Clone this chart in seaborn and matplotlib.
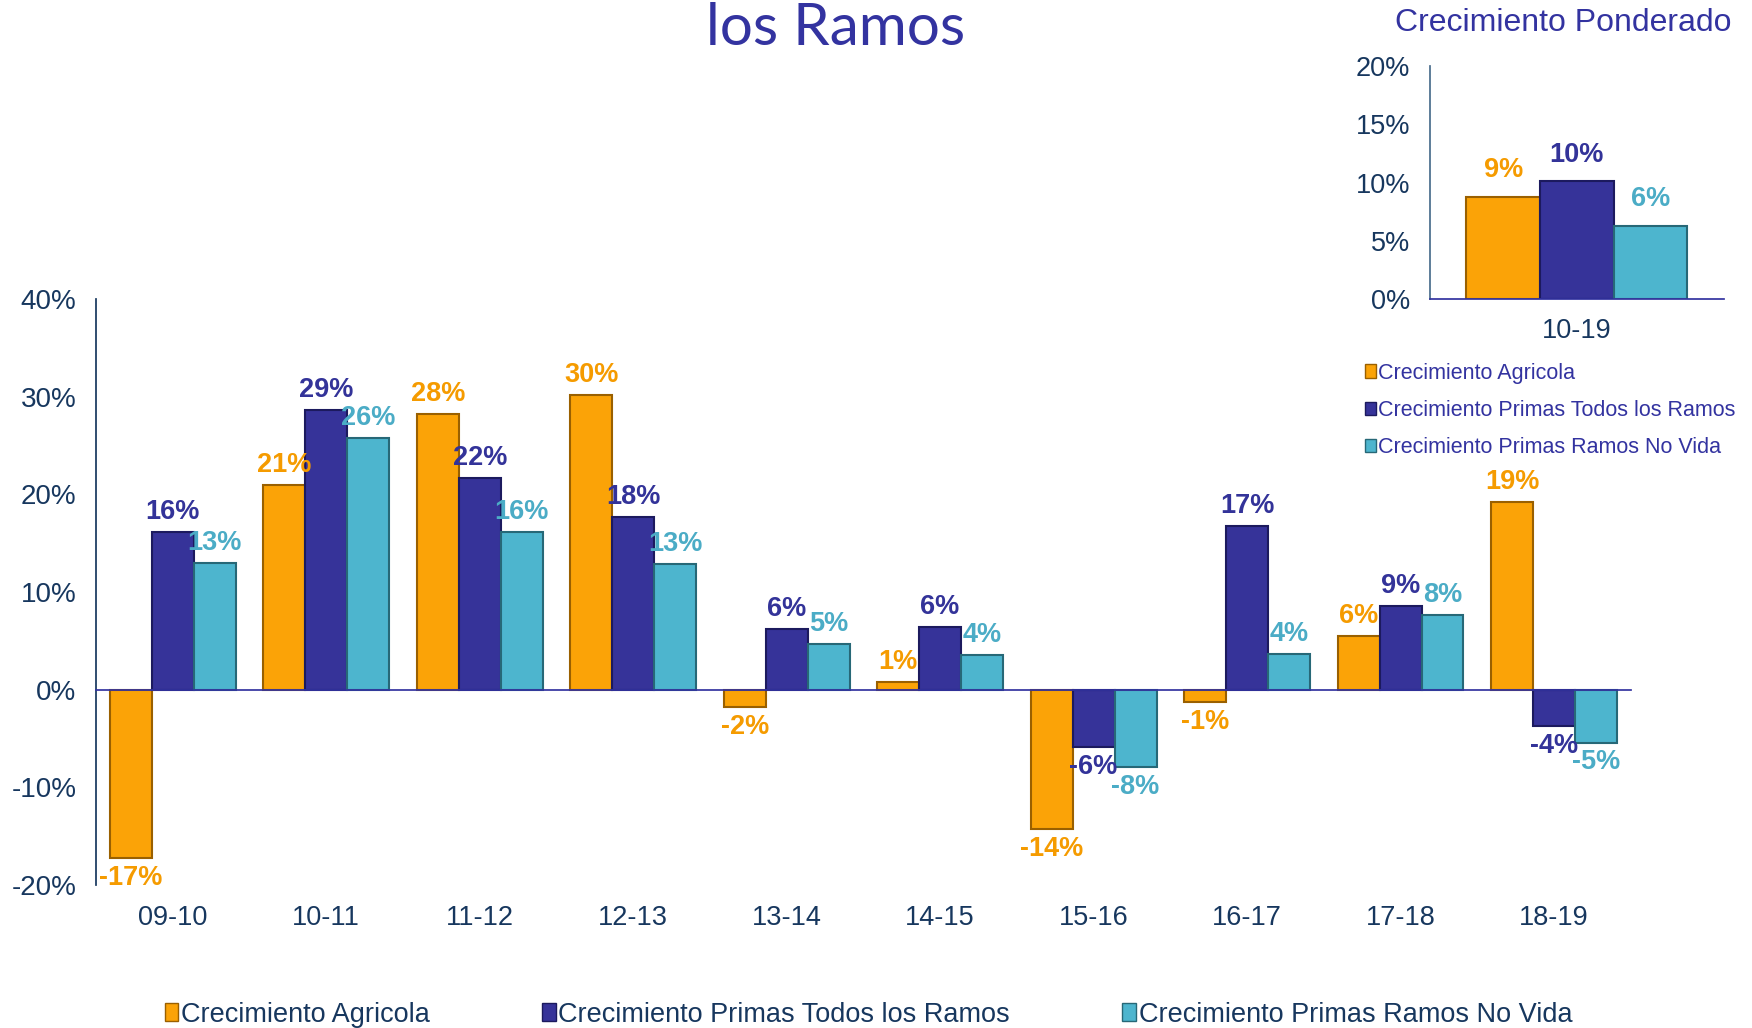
import matplotlib.pyplot as plt
import matplotlib.transforms as mtransforms
from matplotlib.patches import Patch
import pandas as pd
import seaborn as sns

sns.set_theme(style="white")
plt.rcParams['font.family'] = ['Liberation Sans', 'DejaVu Sans']

# datos
periodos = ['09-10', '10-11', '11-12', '12-13', '13-14', '14-15', '15-16', '16-17', '17-18', '18-19']
series = ['Crecimiento Agricola', 'Crecimiento Primas Todos los Ramos', 'Crecimiento Primas Ramos No Vida']
agricola = [-17.2, 21.0, 28.2, 30.2, -1.8, 0.8, -14.3, -1.3, 5.5, 19.2]
primas_todos = [16.2, 28.7, 21.7, 17.7, 6.2, 6.4, -5.9, 16.8, 8.6, -3.7]
primas_no_vida = [13.0, 25.8, 16.2, 12.9, 4.7, 3.6, -7.9, 3.7, 7.7, -5.4]

periodo_pond = ['10-19']
pond_agricola = [8.8]
pond_todos = [10.1]
pond_no_vida = [6.3]

colores = ['#FBA307', '#363399', '#4DB5CE']
bordes = ['#9A6000', '#1C1A5E', '#276877']
col_texto = ['#F59B00', '#333399', '#4BACC6']
navy = '#17375E'
morado = '#3333A0'

df = pd.DataFrame({
    'periodo': periodos * 3,
    'serie': [s for s in series for _ in periodos],
    'valor': agricola + primas_todos + primas_no_vida,
})
df_pond = pd.DataFrame({
    'periodo': periodo_pond * 3,
    'serie': series,
    'valor': pond_agricola + pond_todos + pond_no_vida,
})

fig = plt.figure(figsize=(17.52, 10.28), dpi=100)

# --- grafico principal ---
ax = fig.add_axes([0.0548, 0.139, 0.876, 0.570])
sns.barplot(data=df, x='periodo', y='valor', hue='serie', order=periodos, hue_order=series,
            palette=colores, width=0.82, legend=False, ax=ax, saturation=1)
for cont, borde, ct in zip(ax.containers, bordes, col_texto):
    for b in cont:
        b.set_edgecolor(borde)
        b.set_linewidth(1.5)
    ax.bar_label(cont, labels=[f"{v:.0f}%" for v in cont.datavalues], color=ct,
                 fontsize=19.5, fontweight='bold', padding=5)

ax.set_xlim(-0.5, len(periodos) - 0.5)
ax.set_ylim(-20, 40)
ax.set_yticks([-20, -10, 0, 10, 20, 30, 40])
ax.set_yticklabels([f"{v}%" for v in [-20, -10, 0, 10, 20, 30, 40]], fontsize=20, color=navy)
ax.set_xlabel('')
ax.set_ylabel('')
ax.spines['top'].set_visible(False)
ax.spines['right'].set_visible(False)
ax.spines['bottom'].set_position(('data', 0))
ax.spines['bottom'].set_color(morado)
ax.spines['left'].set_color(navy)
ax.set_xticks([i + 0.5 for i in range(len(periodos))])
ax.set_xticklabels([])
ax.tick_params(axis='x', direction='inout', length=20, color=morado)
ax.tick_params(axis='y', direction='inout', length=16, color=navy, pad=6)
trans = mtransforms.blended_transform_factory(ax.transData, ax.transAxes)
for i, p in enumerate(periodos):
    ax.text(i, -0.056, p, transform=trans, ha='center', va='center', fontsize=19.5, color=navy)

# --- grafico ponderado ---
ax2 = fig.add_axes([0.816, 0.709, 0.168, 0.2267])
sns.barplot(data=df_pond, x='periodo', y='valor', hue='serie', hue_order=series,
            palette=colores, width=0.75, legend=False, ax=ax2, saturation=1)
for cont, borde, ct in zip(ax2.containers, bordes, col_texto):
    for b in cont:
        b.set_edgecolor(borde)
        b.set_linewidth(1.5)
    ax2.bar_label(cont, labels=[f"{v:.0f}%" for v in cont.datavalues], color=ct,
                  fontsize=19.5, fontweight='bold', padding=10)
ax2.set_xlim(-0.5, 0.5)
ax2.set_ylim(0, 20)
ax2.set_yticks([0, 5, 10, 15, 20])
ax2.set_yticklabels([f"{v}%" for v in [0, 5, 10, 15, 20]], fontsize=19.5, color=navy)
ax2.set_xticks([0.5])
ax2.set_xticklabels([])
ax2.tick_params(axis='x', direction='inout', length=20, color=morado)
ax2.tick_params(axis='y', direction='inout', length=16, color='#4A6D8C', pad=6)
ax2.set_xlabel('')
ax2.set_ylabel('')
ax2.spines['top'].set_visible(False)
ax2.spines['right'].set_visible(False)
ax2.spines['bottom'].set_color(morado)
ax2.spines['left'].set_color('#4A6D8C')
ax2.text(0, -0.137, periodo_pond[0], transform=mtransforms.blended_transform_factory(ax2.transData, ax2.transAxes),
         ha='center', va='center', fontsize=19.5, color=navy)
fig.text(0.892, 0.978, 'Crecimiento Ponderado', ha='center', va='center', fontsize=23, color=morado)

# leyendas
handles = [Patch(facecolor=c, edgecolor=b) for c, b in zip(colores, bordes)]
fig.legend(handles, series, loc='upper left', bbox_to_anchor=(0.779, 0.647), frameon=False,
           fontsize=15.5, labelcolor=morado, handlelength=0.5, handleheight=0.6,
           handletextpad=0.1, labelspacing=0.75, borderpad=0, borderaxespad=0)
fig.legend(handles, series, loc='center left', bbox_to_anchor=(0.094, 0.013), ncol=3, frameon=False,
           fontsize=19.5, labelcolor=navy, handlelength=0.5, handleheight=0.6,
           handletextpad=0.1, columnspacing=4.15, borderpad=0, borderaxespad=0)

# titulo (cortado arriba)
fig.text(0.477, 0.972, 'los Ramos', ha='center', va='center', fontsize=42, color=morado, family=['Lato', 'DejaVu Sans'])

fig.savefig('out.png', dpi=100)
